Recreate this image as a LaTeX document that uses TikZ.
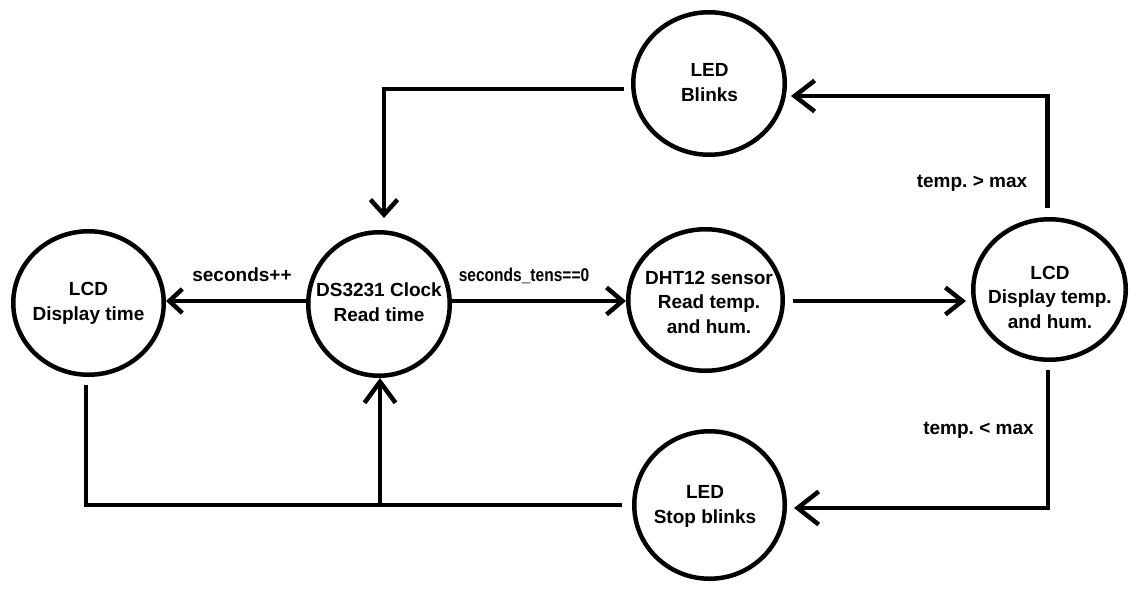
\documentclass[tikz,border=0pt]{standalone}
\usepackage{fontspec}
\setmainfont{Liberation Sans}
\usetikzlibrary{arrows.meta,shapes.geometric}
\frenchspacing
\begin{document}
\begin{tikzpicture}[x=1pt,y=-1pt,
  st/.style={ellipse, draw, line width=4.5pt, inner sep=0pt},
  txt/.style={font=\fontsize{19}{24.5}\selectfont\bfseries, align=center, inner sep=0pt},
  lbl/.style={font=\fontsize{19}{23}\selectfont\bfseries, inner sep=0pt, anchor=base},
  conn/.style={line width=4.5pt},
  barb/.style 2 args={conn, -{Straight Barb[length=#1, width=#2]}}
]
\fill[white] (0,0) rectangle (1139,589);
\useasboundingbox (0,0) rectangle (1139,589);

% states
\node[st, minimum width=150.5pt, minimum height=143.5pt] (lcdl) at (88.5,303) {};
\node[st, minimum width=141.5pt, minimum height=143.5pt] (ds) at (379,304) {};
\node[st, minimum width=154.5pt, minimum height=141.5pt] (dht) at (705.5,300) {};
\node[st, minimum width=152.5pt, minimum height=140.5pt] (lcdr) at (1049.5,289.5) {};
\node[st, minimum width=151.5pt, minimum height=142.5pt] (blink) at (709,83.5) {};
\node[st, minimum width=150.5pt, minimum height=147.5pt] (stop) at (709.5,505) {};

% state texts
\node[txt] (lcdlt) at (88.5,303.5) {LCD\\Display time};
\node[txt] (dst) at (379,302) {DS3231 Clock\\Read time};
\node[txt] (dhtt) at (709,302) {DHT12 sensor\\Read temp.\\and hum.};
\node[txt] (lcdrt) at (1050,297) {LCD\\Display temp.\\and hum.};
\node[txt] (blinkt) at (709.5,82.7) {LED\\Blinks};
\node[txt] (stopt) at (705,506.5) {LED\\Stop blinks};

% labels
\node[lbl] (l1) at (242,281) {seconds++};
\node[lbl] (l2) at (524,281) {\scalebox{0.84}[1]{\fontsize{18.5}{20}\selectfont\bfseries seconds\_tens==0}};
\node[lbl] (l3) at (972,187) {temp. > max};
\node[lbl] (l4) at (978.5,434) {temp. < max};

% connectors
\draw[barb={13pt}{24pt}] ([yshift=3pt]ds.west) -- ([yshift=3pt]ds.west -| lcdl.east);
\draw[barb={16pt}{27pt}] ([yshift=3pt]ds.east) -- ([yshift=3pt]ds.east -| dht.west);
\draw[barb={17pt}{27pt}, shorten <=8pt, shorten >=5pt] ([yshift=-1pt]dht.east) -- ([yshift=-1pt]dht.east -| lcdr.west);
\draw[barb={20pt}{31pt}] ([xshift=-2pt,yshift=9pt]lcdr.north) |- ([xshift=4pt,yshift=-12.5pt]blink.east);
\draw[barb={21pt}{33pt}] ([xshift=-1.5pt,yshift=-8pt]lcdr.south) |- ([xshift=7pt,yshift=-3pt]stop.east);
\draw[barb={15pt}{27pt}] ([xshift=-7pt,yshift=-5.5pt]blink.west) -| ([xshift=5pt,yshift=12pt]ds.north);
\draw[conn] ([xshift=-2.5pt,yshift=-8pt]lcdl.south) |- ([xshift=1pt]ds.south |- stop.west);
\draw[barb={21pt}{31pt}] ([xshift=-10pt]stop.west) -| ([xshift=1pt]ds.south);
\end{tikzpicture}
\end{document}
